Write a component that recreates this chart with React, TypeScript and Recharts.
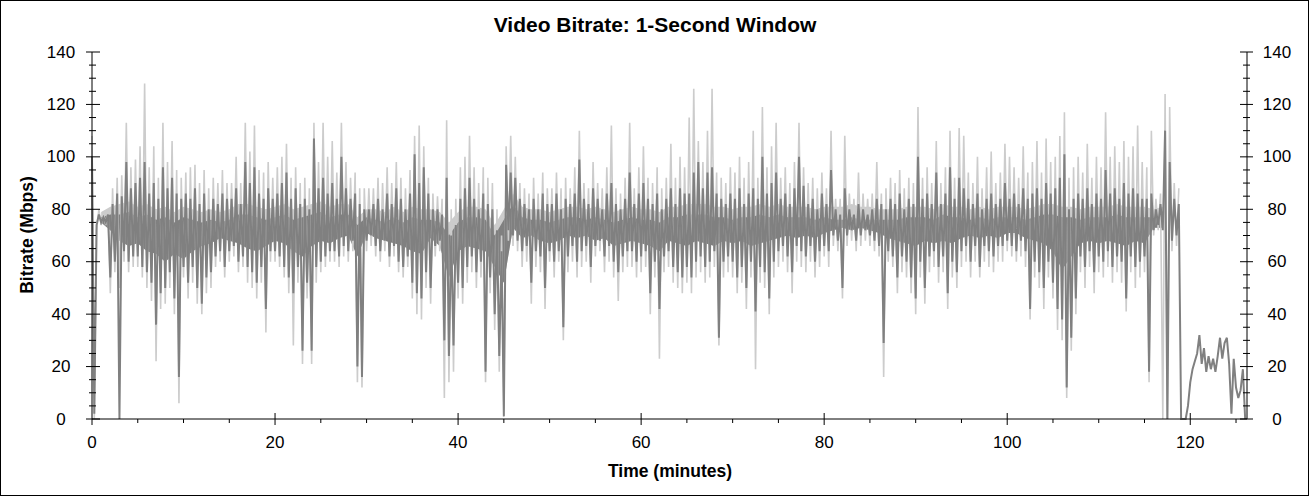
import { ComposedChart, Line, Area, XAxis, YAxis } from "recharts";

// ---------------------------------------------------------------------------
// Data
// ---------------------------------------------------------------------------

// The traces are sampled every quarter minute
const MINUTE_STEP = 0.25;

// Video bitrate (Mbps), dark trace
const BITRATE = [
  100, 2, 74, 78, 75, 77, 75, 78, 54, 82, 60, 86, 0, 85, 64, 98, 60, 88, 62, 90,
  62, 92, 58, 98, 56, 86, 52, 90, 36, 84, 48, 96, 50, 88, 56, 92, 46, 86, 16, 84,
  58, 86, 52, 84, 58, 88, 50, 82, 44, 86, 54, 80, 56, 84, 62, 82, 64, 86, 58, 84,
  64, 84, 66, 88, 60, 82, 62, 98, 58, 90, 56, 96, 52, 86, 58, 84, 42, 88, 64, 84,
  64, 86, 62, 90, 58, 94, 54, 84, 48, 88, 58, 82, 26, 84, 52, 80, 26, 107, 58, 88,
  60, 92, 62, 86, 64, 90, 64, 84, 62, 100, 66, 88, 64, 84, 68, 86, 20, 82, 16, 80,
  68, 80, 70, 82, 66, 84, 64, 80, 68, 86, 62, 82, 66, 88, 60, 84, 58, 80, 62, 86,
  52, 101, 48, 90, 46, 96, 56, 86, 50, 80, 66, 80, 68, 78, 30, 92, 24, 70, 28, 74,
  52, 84, 50, 88, 58, 92, 62, 84, 56, 80, 60, 86, 18, 82, 54, 80, 40, 72, 24, 64,
  1, 97, 72, 94, 70, 92, 68, 84, 64, 82, 66, 80, 52, 84, 64, 80, 62, 86, 50, 82,
  64, 82, 60, 86, 64, 80, 35, 84, 62, 82, 66, 86, 60, 99, 64, 84, 66, 82, 58, 88,
  66, 84, 68, 80, 62, 86, 66, 90, 60, 82, 56, 80, 62, 84, 64, 94, 64, 82, 60, 86,
  62, 90, 64, 84, 48, 82, 60, 86, 42, 80, 62, 84, 64, 88, 58, 82, 56, 88, 54, 86,
  58, 86, 54, 94, 60, 98, 62, 88, 58, 94, 60, 96, 64, 86, 31, 84, 60, 82, 62, 86,
  60, 84, 54, 88, 58, 82, 50, 86, 60, 88, 41, 84, 58, 100, 56, 86, 46, 90, 60, 94,
  64, 84, 66, 86, 62, 82, 56, 88, 66, 100, 64, 89, 62, 82, 66, 84, 60, 80, 64, 86,
  66, 82, 64, 95, 70, 80, 68, 78, 50, 88, 70, 80, 72, 78, 68, 82, 70, 80, 72, 78,
  70, 80, 68, 84, 66, 82, 29, 80, 64, 84, 62, 82, 54, 86, 62, 80, 60, 84, 54, 82,
  46, 100, 60, 84, 50, 86, 62, 82, 64, 94, 58, 82, 62, 86, 48, 96, 60, 84, 56, 92,
  64, 88, 66, 84, 60, 82, 66, 86, 58, 80, 66, 84, 64, 86, 62, 82, 66, 84, 66, 90,
  68, 84, 66, 86, 64, 82, 68, 88, 64, 84, 42, 86, 60, 88, 56, 84, 50, 90, 60, 86,
  52, 88, 42, 92, 38, 101, 12, 80, 31, 84, 46, 86, 62, 84, 58, 88, 64, 82, 56, 86,
  62, 84, 60, 95, 64, 86, 58, 88, 62, 84, 60, 90, 46, 86, 62, 88, 58, 86, 60, 84,
  62, 84, 18, 86, 72, 80, 74, 82, 72, 110, 0, 98, 68, 84, 70, 82, 0, 0, 0, 5,
  14, 19, 22, 25, 32, 21, 27, 18, 24, 19, 23, 18, 24, 31, 23, 29, 31, 21, 2, 23,
  12, 8, 11, 19, 0,
];

// Peak envelope (Mbps), light trace drawn behind the bitrate
const PEAK = [
  108, 0, 72, 80, 74, 79, 74, 80, 48, 88, 56, 92, 50, 93, 60, 113, 56, 96, 58, 99,
  58, 104, 54, 128, 50, 96, 45, 104, 22, 92, 42, 113, 44, 98, 50, 106, 40, 95, 6, 92,
  54, 94, 46, 96, 52, 97, 44, 90, 40, 95, 48, 88, 50, 92, 58, 90, 60, 95, 54, 90,
  60, 90, 62, 100, 56, 90, 58, 113, 52, 102, 50, 112, 46, 95, 52, 94, 33, 98, 60, 92,
  60, 96, 58, 100, 54, 105, 48, 92, 28, 96, 52, 90, 21, 92, 46, 88, 21, 113, 52, 98,
  56, 113, 58, 100, 60, 106, 60, 94, 58, 113, 62, 98, 60, 92, 64, 94, 14, 88, 12, 88,
  64, 88, 66, 88, 62, 92, 60, 90, 64, 96, 58, 90, 62, 98, 56, 92, 54, 88, 58, 95,
  46, 108, 40, 112, 38, 104, 50, 92, 44, 86, 62, 85, 64, 84, 8, 114, 14, 80, 18, 84,
  46, 96, 44, 100, 52, 108, 56, 96, 50, 90, 54, 96, 14, 92, 48, 90, 34, 80, 18, 70,
  4, 104, 68, 108, 66, 100, 64, 90, 58, 88, 60, 86, 44, 92, 58, 86, 56, 94, 42, 88,
  60, 88, 54, 94, 60, 88, 30, 92, 56, 88, 60, 96, 54, 110, 58, 90, 60, 88, 52, 98,
  62, 90, 64, 88, 56, 96, 60, 112, 54, 88, 45, 86, 56, 92, 58, 113, 58, 88, 54, 96,
  56, 104, 58, 92, 40, 90, 54, 96, 23, 88, 56, 92, 58, 105, 52, 92, 50, 100, 48, 96,
  52, 115, 48, 126, 54, 106, 56, 98, 52, 110, 54, 126, 58, 94, 28, 92, 54, 90, 56, 96,
  54, 94, 48, 100, 52, 92, 42, 98, 54, 110, 19, 92, 52, 119, 50, 96, 40, 104, 54, 113,
  58, 92, 60, 96, 56, 90, 48, 98, 60, 113, 58, 96, 56, 90, 60, 92, 54, 88, 58, 94,
  62, 88, 58, 110, 66, 84, 64, 84, 46, 108, 66, 86, 68, 84, 64, 94, 66, 86, 68, 84,
  66, 86, 64, 98, 62, 86, 16, 88, 60, 92, 58, 90, 48, 95, 56, 88, 54, 92, 48, 90,
  40, 119, 54, 92, 44, 96, 56, 90, 58, 106, 52, 90, 56, 96, 42, 110, 54, 92, 50, 111,
  58, 108, 60, 94, 54, 90, 60, 100, 54, 88, 60, 96, 58, 102, 56, 90, 60, 94, 60, 105,
  64, 100, 62, 96, 60, 92, 62, 104, 58, 94, 38, 98, 54, 106, 50, 94, 42, 107, 54, 98,
  46, 100, 34, 108, 30, 117, 8, 92, 26, 96, 40, 100, 56, 94, 50, 105, 58, 92, 48, 100,
  56, 96, 54, 117, 58, 100, 52, 104, 56, 98, 52, 106, 41, 100, 56, 104, 50, 112, 54, 98,
  56, 96, 14, 110, 70, 84, 72, 86, 0, 124, 0, 119, 64, 90, 66, 88,
];

// Dense body of the trace, one value per minute starting at minute 1
const CORE_START_MINUTE = 1;
const CORE_LOW = [
  75, 72, 68, 66, 67, 64, 63, 60, 63, 61,
  64, 66, 67, 69, 68, 67, 65, 64, 66, 68,
  67, 64, 62, 66, 68, 67, 69, 70, 62, 71,
  69, 68, 67, 66, 64, 63, 69, 66, 54, 64,
  66, 65, 64, 58, 52, 73, 69, 70, 68, 67,
  68, 70, 69, 70, 68, 69, 66, 67, 68, 67,
  66, 64, 68, 67, 66, 68, 67, 66, 68, 67,
  68, 66, 67, 68, 69, 70, 69, 70, 69, 71,
  72, 73, 72, 73, 72, 71, 69, 68, 67, 66,
  68, 67, 68, 67, 69, 70, 69, 70, 69, 71,
  71, 69, 68, 67, 64, 57, 62, 67, 68, 67,
  68, 67, 66, 68, 67, 73, 73,
];
const CORE_HIGH = [
  77, 78, 78, 79, 77, 78, 76, 77, 75, 77,
  76, 75, 76, 75, 76, 78, 78, 77, 76, 77,
  78, 76, 77, 78, 79, 77, 78, 78, 74, 77,
  76, 75, 77, 75, 77, 76, 76, 75, 70, 75,
  77, 77, 76, 70, 76, 82, 77, 76, 76, 75,
  76, 77, 77, 76, 77, 76, 75, 76, 77, 76,
  76, 75, 77, 77, 78, 78, 78, 77, 77, 76,
  77, 77, 78, 77, 78, 77, 77, 77, 76, 77,
  76, 76, 77, 76, 76, 76, 76, 76, 77, 77,
  77, 76, 78, 77, 77, 76, 77, 76, 77, 77,
  77, 76, 77, 78, 78, 77, 77, 76, 77, 77,
  77, 78, 77, 77, 77, 77, 78,
];
// Top of the light fringe that sits on the dense body
const FRINGE_HIGH = [
  79, 81, 82, 83, 81, 82, 80, 81, 79, 81,
  80, 79, 80, 79, 80, 82, 82, 81, 80, 81,
  82, 80, 81, 82, 83, 81, 82, 82, 77, 80,
  80, 79, 81, 79, 81, 80, 80, 79, 75, 79,
  81, 81, 80, 74, 80, 86, 81, 80, 80, 79,
  80, 81, 81, 80, 81, 80, 79, 80, 81, 80,
  80, 79, 81, 81, 82, 82, 82, 81, 81, 80,
  81, 81, 82, 81, 82, 81, 81, 81, 80, 81,
  81, 81, 82, 81, 81, 80, 80, 80, 81, 81,
  81, 80, 82, 81, 81, 80, 81, 80, 81, 81,
  81, 80, 81, 82, 82, 81, 81, 80, 81, 81,
  81, 82, 81, 81, 81, 80, 81,
];

const X_TICKS = [
  0, 5, 10, 15, 20, 25, 30, 35, 40, 45, 50, 55, 60, 65, 70, 75, 80, 85, 90, 95,
  100, 105, 110, 115, 120, 125,
];
const Y_TICKS = [
  0, 5, 10, 15, 20, 25, 30, 35, 40, 45, 50, 55, 60, 65, 70, 75, 80, 85, 90, 95,
  100, 105, 110, 115, 120, 125, 130, 135, 140,
];
const X_MAX = 126.2;
const Y_MAX = 140;

const traceData = BITRATE.map((rate, i) => ({
  minute: i * MINUTE_STEP,
  rate,
  peak: i < PEAK.length ? PEAK[i] : null,
}));

const bodyData = CORE_LOW.map((low, k) => ({
  minute: CORE_START_MINUTE + k,
  core: [low, CORE_HIGH[k]],
  fringe: [low, FRINGE_HIGH[k]],
}));

// ---------------------------------------------------------------------------
// Axis ticks: major ticks cross the frame, minor ticks are short
// ---------------------------------------------------------------------------

const FONT = '"Liberation Sans", Arial, sans-serif';
const isMajor = (v: number) => v % 20 === 0;

function LeftTick({ x, y, payload }: any) {
  const major = isMajor(payload.value);
  return (
    <g>
      <line x1={x - (major ? 6 : 3)} x2={x + (major ? 8 : 4)} y1={y} y2={y} stroke="#000" />
      {major && (
        <text x={x - 31} y={y + 5.5} textAnchor="middle" fontSize={17} fontFamily={FONT} fill="#000">
          {payload.value}
        </text>
      )}
    </g>
  );
}

function RightTick({ x, y, payload }: any) {
  const major = isMajor(payload.value);
  return (
    <g>
      <line x1={x - (major ? 7 : 4)} x2={x + (major ? 6 : 3)} y1={y} y2={y} stroke="#000" />
      {major && (
        <text x={x + 30} y={y + 5.5} textAnchor="middle" fontSize={17} fontFamily={FONT} fill="#000">
          {payload.value}
        </text>
      )}
    </g>
  );
}

function BottomTick({ x, y, payload }: any) {
  const major = isMajor(payload.value);
  return (
    <g>
      <line x1={x} x2={x} y1={y - (major && payload.value !== 0 ? 6 : 0)} y2={y + (major ? 6 : 4)} stroke="#000" />
      {major && (
        <text x={x} y={y + 29} textAnchor="middle" fontSize={17} fontFamily={FONT} fill="#000">
          {payload.value}
        </text>
      )}
    </g>
  );
}

function TopTick({ x, y, payload }: any) {
  const major = isMajor(payload.value);
  return <line x1={x} x2={x} y1={y} y2={y + (major ? 6 : 4)} stroke="#000" />;
}

// ---------------------------------------------------------------------------
// Component
// ---------------------------------------------------------------------------

const DARK = "#808080";
const LIGHT = "#cccccc";

export default function App() {
  return (
    <div style={{ position: "absolute", left: 0, top: 0, width: 1309, height: 496, background: "#fff" }}>
      <ComposedChart width={1309} height={496} data={traceData} margin={{ top: 52, right: 0, bottom: 0, left: 0 }}>
        <XAxis
          xAxisId="bottom"
          dataKey="minute"
          type="number"
          domain={[0, X_MAX]}
          ticks={X_TICKS}
          interval={0}
          height={77}
          tickSize={0}
          tickMargin={0}
          tickLine={false}
          axisLine={{ stroke: "#000" }}
          tick={BottomTick}
        />
        <XAxis
          xAxisId="top"
          orientation="top"
          dataKey="minute"
          type="number"
          domain={[0, X_MAX]}
          ticks={X_TICKS}
          interval={0}
          height={0}
          tickSize={0}
          tickMargin={0}
          tickLine={false}
          axisLine={{ stroke: "#000" }}
          tick={TopTick}
        />
        <YAxis
          yAxisId="left"
          type="number"
          domain={[0, Y_MAX]}
          ticks={Y_TICKS}
          interval={0}
          width={92}
          tickSize={0}
          tickMargin={0}
          tickLine={false}
          axisLine={{ stroke: "#000" }}
          tick={LeftTick}
        />
        <YAxis
          yAxisId="right"
          orientation="right"
          type="number"
          domain={[0, Y_MAX]}
          ticks={Y_TICKS}
          interval={0}
          width={62}
          tickSize={0}
          tickMargin={0}
          tickLine={false}
          axisLine={{ stroke: "#000" }}
          tick={RightTick}
        />
        <Area
          xAxisId="top"
          yAxisId="right"
          data={bodyData}
          type="linear"
          dataKey="fringe"
          stroke="none"
          fill={LIGHT}
          fillOpacity={1}
          dot={false}
          activeDot={false}
          isAnimationActive={false}
        />
        <Line
          xAxisId="top"
          yAxisId="right"
          type="linear"
          dataKey="peak"
          stroke={LIGHT}
          strokeWidth={1.6}
          dot={false}
          activeDot={false}
          connectNulls={false}
          isAnimationActive={false}
        />
        <Area
          xAxisId="bottom"
          yAxisId="left"
          data={bodyData}
          type="linear"
          dataKey="core"
          stroke="none"
          fill={DARK}
          fillOpacity={1}
          dot={false}
          activeDot={false}
          isAnimationActive={false}
        />
        <Line
          xAxisId="bottom"
          yAxisId="left"
          type="linear"
          dataKey="rate"
          stroke={DARK}
          strokeWidth={2}
          dot={false}
          activeDot={false}
          isAnimationActive={false}
        />
      </ComposedChart>
      <svg
        width={1309}
        height={496}
        style={{ position: "absolute", left: 0, top: 0, pointerEvents: "none" }}
        fontFamily={FONT}
      >
        <rect x={0.5} y={0.5} width={1308} height={495} fill="none" stroke="#000" />
        <text x={655} y={32} textAnchor="middle" fontSize={21} fontWeight="bold" fill="#000">
          Video Bitrate: 1-Second Window
        </text>
        <text transform="translate(33,235) rotate(-90)" textAnchor="middle" fontSize={17.5} fontWeight="bold" fill="#000">
          Bitrate (Mbps)
        </text>
        <text x={670} y={477} textAnchor="middle" fontSize={17.5} fontWeight="bold" fill="#000">
          Time (minutes)
        </text>
      </svg>
    </div>
  );
}
